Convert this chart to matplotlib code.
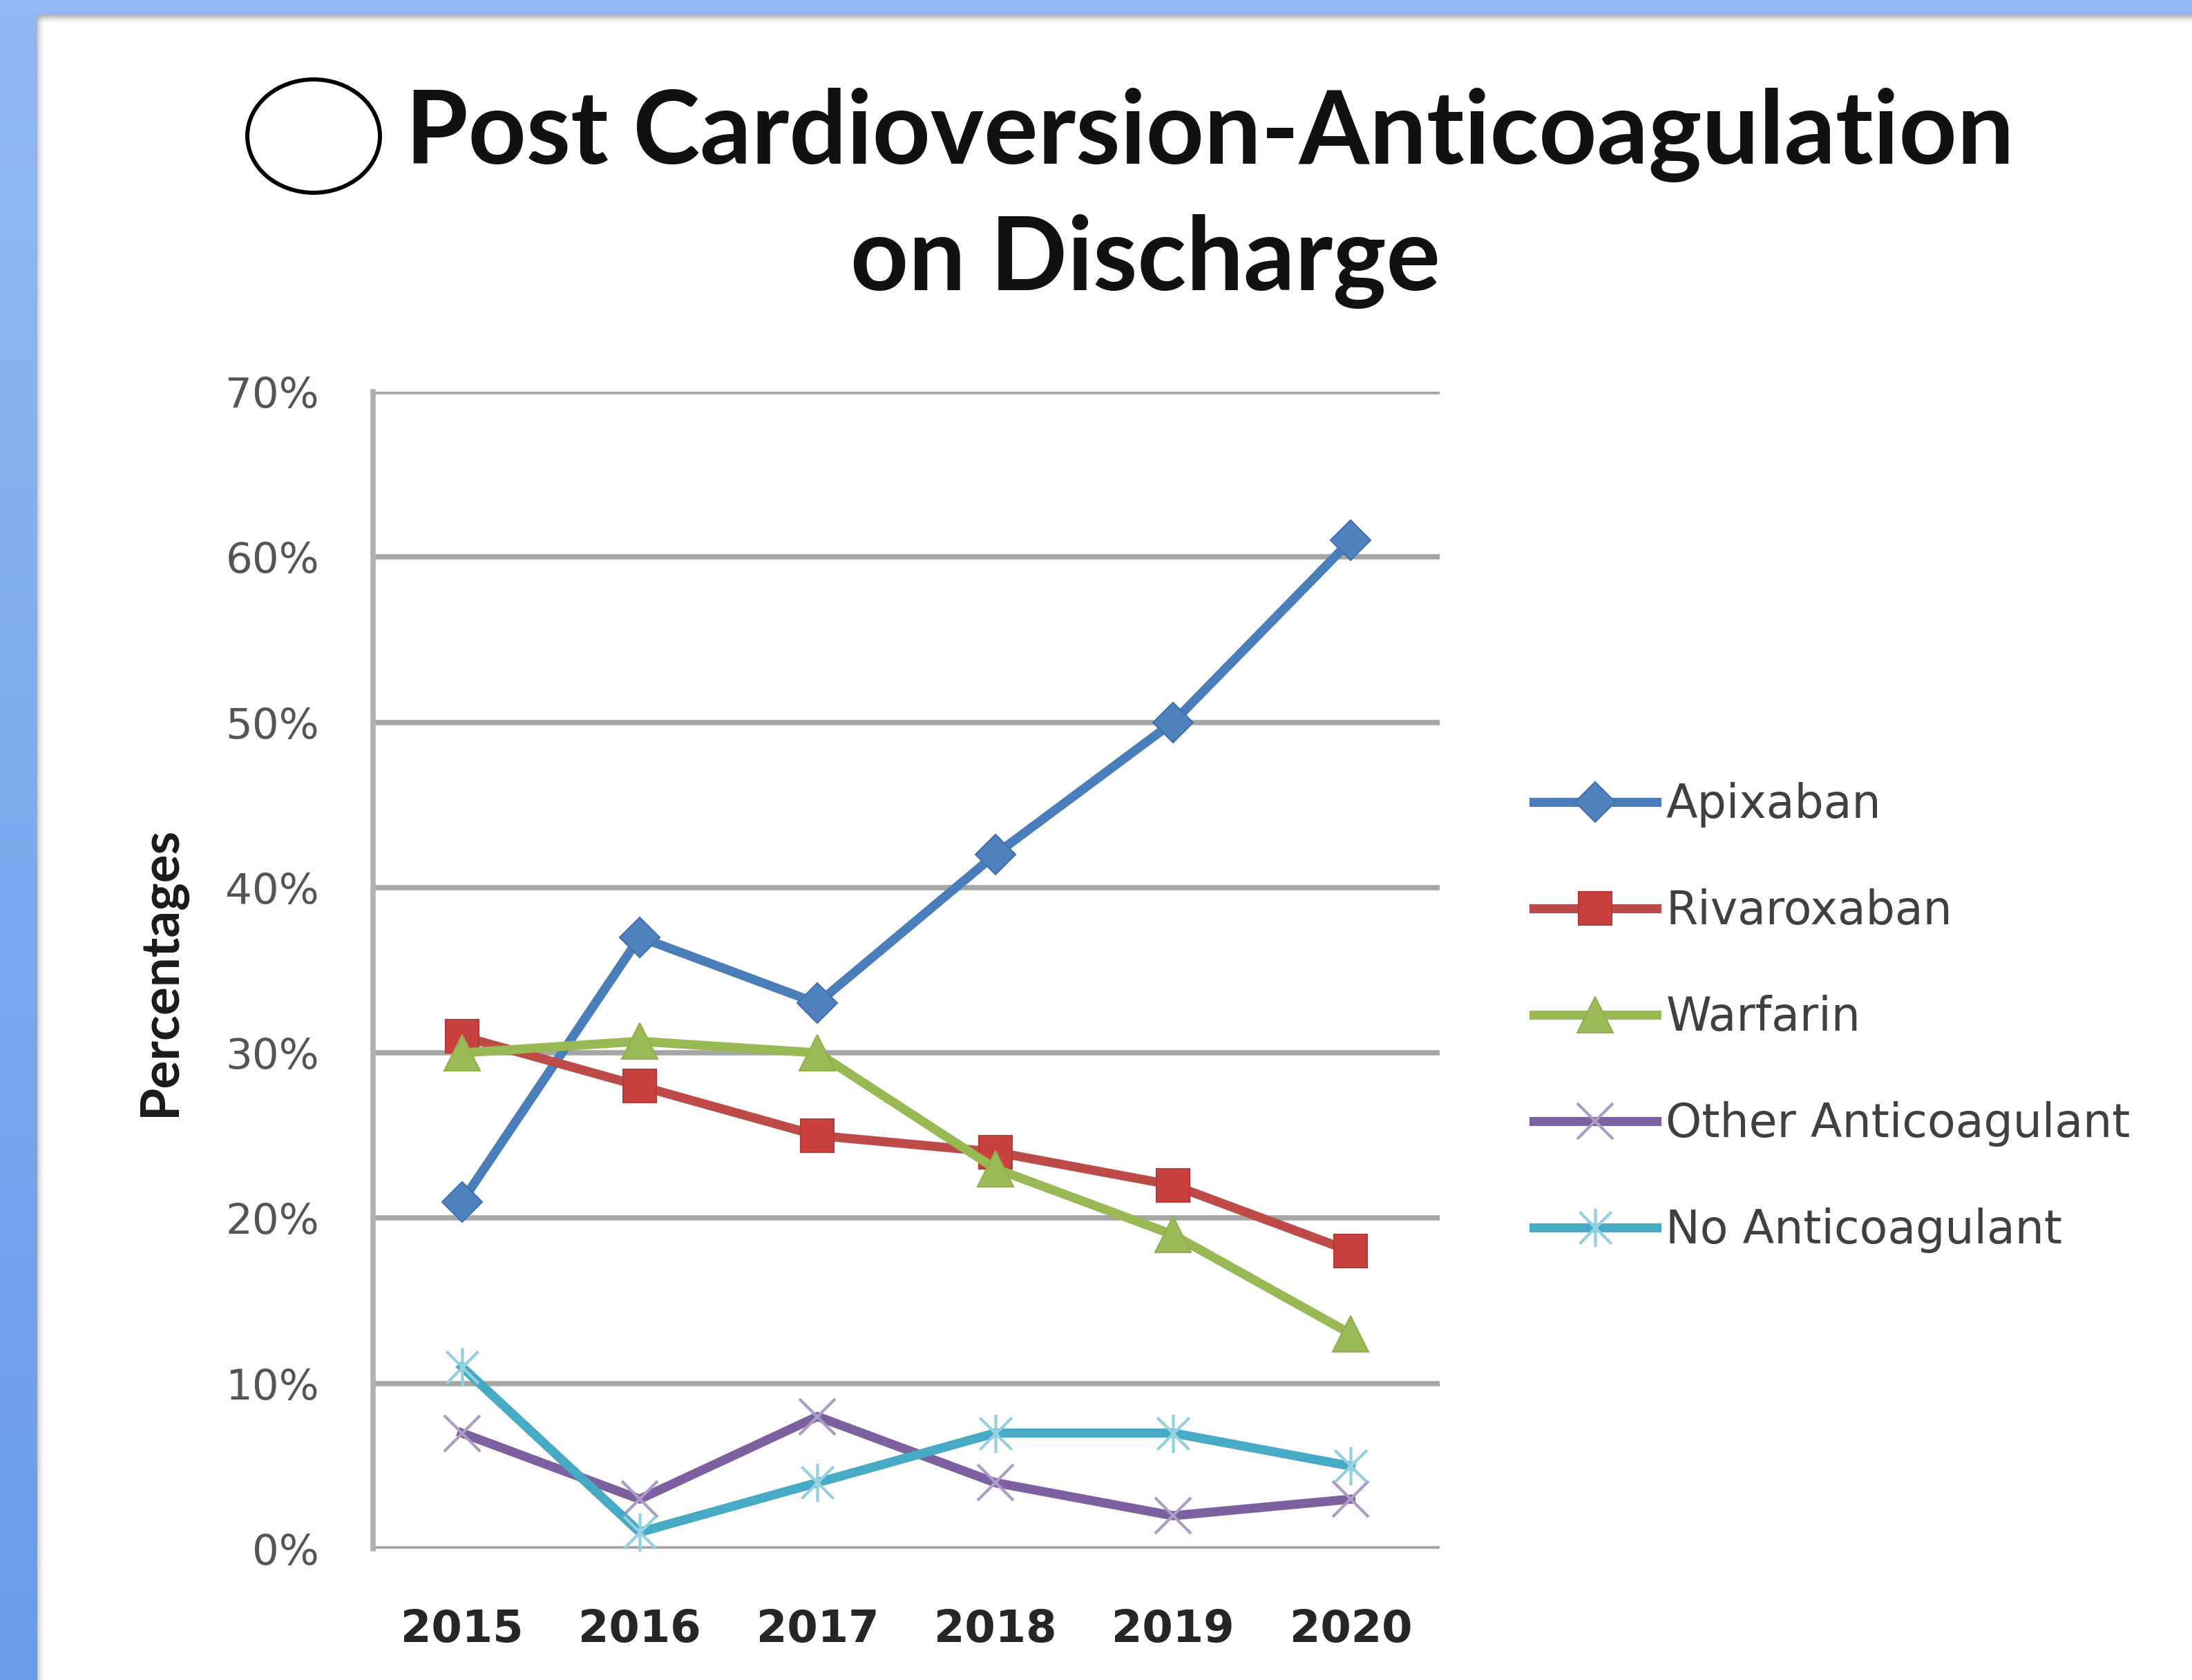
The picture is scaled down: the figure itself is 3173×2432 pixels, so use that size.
import numpy as np
import matplotlib
matplotlib.use("Agg")
import matplotlib.pyplot as plt
from matplotlib.patches import Ellipse, Rectangle
from matplotlib.path import Path

# ---------------- data ----------------
years = ["2015", "2016", "2017", "2018", "2019", "2020"]
apixaban = [21, 37, 33, 42, 50, 61]
rivaroxaban = [31, 28, 25, 24, 22, 18]
warfarin = [30, 30.7, 30, 23, 19, 13]
other_anticoagulant = [7, 3, 8, 4, 2, 3]
no_anticoagulant = [11, 1, 4, 7, 7, 5]
series_names = ["Apixaban", "Rivaroxaban", "Warfarin", "Other Anticoagulant", "No Anticoagulant"]
y_ticks = [0, 10, 20, 30, 40, 50, 60, 70]
title_line1 = "Post Cardioversion-Anticoagulation"
title_line2 = "on Discharge"
y_label = "Percentages"

W, H = 3173, 2432
fig = plt.figure(figsize=(W / 100, H / 100), dpi=100)
fig.patch.set_facecolor("white")

# ---------------- background decoration ----------------
bg = fig.add_axes([0, 0, 1, 1], zorder=-10)
bg.set_xlim(0, W)
bg.set_ylim(H, 0)
bg.axis("off")
grad = np.linspace(0, 1, 256).reshape(-1, 1)
top_c = np.array([0x92, 0xb8, 0xf4]) / 255
bot_c = np.array([0x69, 0x9c, 0xe8]) / 255
left_img = top_c[None, None, :] * (1 - grad[:, :, None]) + bot_c[None, None, :] * grad[:, :, None]
bg.imshow(left_img, extent=[0, 54, H, 0], aspect="auto", interpolation="bilinear")
bg.add_patch(Rectangle((0, 0), W, 21, color="#92b8f4", lw=0))
sh = np.linspace(0, 1, 64).reshape(-1, 1)
shadow = np.ones((64, 1, 4))
shadow[..., :3] = 0.55
shadow[..., 3] = (1 - sh) ** 1.5 * 0.7
bg.imshow(shadow, extent=[54, W, 34, 21], aspect="auto", interpolation="bilinear")
shv = np.ones((1, 64, 4))
shv[..., :3] = 0.6
shv[..., 3] = (1 - np.linspace(0, 1, 64)) ** 1.5 * 0.5
bg.imshow(shv, extent=[54, 66, H, 21], aspect="auto", interpolation="bilinear")

# ---------------- main axes ----------------
ax_left, ax_right = 540 / W, 2084 / W
ax_top, ax_bot = 1 - 567 / H, 1 - 2242 / H
ax = fig.add_axes([ax_left, ax_bot, ax_right - ax_left, ax_top - ax_bot])
ax.set_facecolor("white")

x = np.arange(len(years))
star = Path([(-1, -1), (1, 1), (-1, 1), (1, -1), (0, -1.2), (0, 1.2)],
            [Path.MOVETO, Path.LINETO, Path.MOVETO, Path.LINETO, Path.MOVETO, Path.LINETO])

styles = [
    dict(color="#4a7ebb", marker="D", ms=30, mfc="#4f81bd", mec="#3f6fb0", mew=1.5),
    dict(color="#be4b48", marker="s", ms=35, mfc="#c9413e", mec="#b43a37", mew=1.5),
    dict(color="#98b954", marker="^", ms=38, mfc="#9bbb59", mec="#8fb04c", mew=1.5),
    dict(color="#7d60a0", marker="x", ms=38, mfc="none", mec="#ad9bc8", mew=3),
    dict(color="#46aac5", marker=star, ms=40, mfc="none", mec="#92d0e2", mew=3),
]
all_series = [apixaban, rivaroxaban, warfarin, other_anticoagulant, no_anticoagulant]
for i, (vals, name, st) in enumerate(zip(all_series, series_names, styles)):
    ax.plot(x, vals, label=name, lw=9.5, solid_joinstyle="round", zorder=3 + i,
            clip_on=False, **st)

ax.set_xlim(-0.5, len(years) - 0.5)
ax.set_ylim(0, 70)
ax.set_yticks(y_ticks)
ax.set_yticklabels([f"{v}%" for v in y_ticks])
ax.set_xticks(x)
ax.set_xticklabels(years)
ax.yaxis.grid(True, color="#a6a6a6", lw=5.5, zorder=0)
ax.set_axisbelow(True)
for s in ["top", "right", "bottom"]:
    ax.spines[s].set_visible(False)
ax.spines["left"].set_color("#b0b0b0")
ax.spines["left"].set_linewidth(5.5)
ax.tick_params(axis="both", length=0)
ax.tick_params(axis="y", pad=56, labelsize=44, labelcolor="#555555")
ax.tick_params(axis="x", pad=62, labelsize=46, labelcolor="#262626")
for t in ax.get_xticklabels():
    t.set_fontweight("bold")

ax.set_ylabel(y_label, fontsize=57, fontweight="bold", family="Lato", color="#1a1a1a",
              va="center")
ax.yaxis.set_label_coords((233 - 540) / 1544, (2242 - 1406) / 1675)

leg = ax.legend(loc="center left", bbox_to_anchor=(2220 / W, 1 - 1473 / H),
                bbox_transform=fig.transFigure, frameon=False, fontsize=48,
                handlelength=2.67, handletextpad=0.2, labelspacing=1.32,
                borderpad=0, borderaxespad=0)
for t in leg.get_texts():
    t.set_color("#404040")

# ---------------- title ----------------
t1 = fig.text(1751 / W, 1 - 237 / H, title_line1, ha="center", va="baseline",
              fontsize=95, fontweight="bold", family="Lato", color="#111111")
t2 = fig.text(1658 / W, 1 - 420 / H, title_line2, ha="center", va="baseline",
              fontsize=95, fontweight="bold", family="Lato", color="#111111")

r = fig.canvas.get_renderer()
def fit_width(t, target, vertical=False):
    for _ in range(3):
        bb = t.get_window_extent(r)
        w = bb.height if vertical else bb.width
        t.set_fontsize(t.get_fontsize() * target / w)

fit_width(t1, 2328)
t2.set_fontsize(t1.get_fontsize())
fit_width(ax.yaxis.label, 420, vertical=True)

fig.add_artist(Ellipse((454 / W, 1 - 197 / H), 192 / W, 164 / H, transform=fig.transFigure,
                       fill=False, ec="black", lw=4.3))

fig.savefig("out.png", dpi=100, facecolor="white")
